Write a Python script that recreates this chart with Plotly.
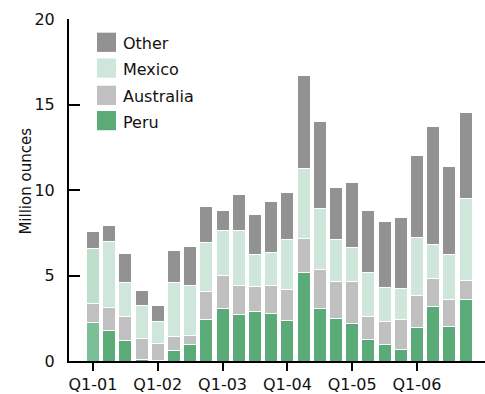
import plotly.graph_objects as go

# Quarterly silver output by source, million ounces
quarters = [f"Q{q}-{y:02d}" for y in range(1, 7) for q in range(1, 5)]

peru = [2.27, 1.76, 1.18, 0.08, 0.05, 0.62, 0.99, 2.44, 3.08, 2.71, 2.89, 2.79,
        2.38, 5.19, 3.08, 2.50, 2.19, 1.26, 0.97, 0.66, 1.94, 3.18, 2.03, 3.62]
australia = [1.12, 1.34, 1.44, 1.24, 0.98, 0.81, 0.52, 1.61, 1.94, 1.71, 1.49, 1.63,
             1.81, 1.96, 2.29, 2.15, 2.46, 1.37, 1.36, 1.78, 1.90, 1.65, 1.56, 1.09]
mexico = [3.20, 3.89, 1.99, 1.92, 1.26, 3.16, 2.91, 2.87, 2.60, 3.21, 1.86, 1.93,
          2.92, 4.11, 3.54, 2.48, 1.96, 2.56, 1.95, 1.80, 3.37, 1.99, 2.65, 4.77]
other = [1.00, 0.94, 1.67, 0.89, 0.95, 1.90, 2.25, 2.11, 1.20, 2.08, 2.35, 2.99,
         2.75, 5.44, 5.08, 3.02, 3.83, 3.61, 3.86, 4.17, 4.82, 6.88, 5.12, 5.03]

tick_quarters = ["Q1-01", "Q1-02", "Q1-03", "Q1-04", "Q1-05", "Q1-06"]
y_ticks = [0, 5, 10, 15, 20]

C_PERU, C_AUS, C_MEX, C_OTHER = "#5aab78", "#c0c0c0", "#cfe6da", "#929292"
# first quarter shown with a highlighted tint
peru_colors = ["#7bbf96"] + [C_PERU] * (len(quarters) - 1)
mex_colors = ["#bddfcb"] + [C_MEX] * (len(quarters) - 1)

series = [
    ("Peru", peru, peru_colors),
    ("Australia", australia, C_AUS),
    ("Mexico", mexico, mex_colors),
    ("Other", other, C_OTHER),
]

FONT = "DejaVu Sans, Verdana, sans-serif"
TXT = "#111111"

fig = go.Figure()
for name, vals, col in series:
    fig.add_trace(go.Bar(
        x=quarters, y=vals, name=name, width=0.8,
        marker=dict(color=col, line=dict(color="white", width=1)),
        showlegend=False,
    ))

# legend drawn as large square swatches with labels (pixel rows of each entry)
legend_items = [("Other", C_OTHER), ("Mexico", C_MEX), ("Australia", C_AUS), ("Peru", C_PERU)]
legend_rows = [42.5, 68.5, 96, 121.5]
W, H = 485, 394
L, B, T = 69, 30, 19
pw, ph = W - L, H - B - T
for (name, col), cy in zip(legend_items, legend_rows):
    x0 = (97 - L) / pw
    x1 = (116 - L) / pw
    y0 = (H - B - (cy + 9.7)) / ph
    y1 = (H - B - (cy - 9.7)) / ph
    fig.add_shape(type="rect", xref="paper", yref="paper", x0=x0, x1=x1, y0=y0, y1=y1,
                  fillcolor=col, line=dict(width=0))
    fig.add_annotation(xref="paper", yref="paper", x=(121 - L) / pw, y=(H - B - cy - 1.5) / ph,
                       text=name, showarrow=False, xanchor="left", yanchor="middle",
                       font=dict(family=FONT, size=16, color=TXT))

fig.add_annotation(xref="paper", yref="paper", x=(26 - L) / pw, y=(H - B - 183) / ph,
                   text="Million ounces", textangle=-90, showarrow=False,
                   xanchor="center", yanchor="middle",
                   font=dict(family=FONT, size=15, color=TXT))

fig.update_layout(
    width=W, height=H,
    margin=dict(l=L, r=0, t=T, b=B),
    barmode="stack",
    bargap=0.2,
    plot_bgcolor="white", paper_bgcolor="white",
    font=dict(family=FONT, size=16, color=TXT),
    xaxis=dict(
        type="category", categoryorder="array", categoryarray=quarters,
        range=[-1.48, 24.2],
        tickmode="array", tickvals=tick_quarters, ticktext=tick_quarters,
        ticks="outside", ticklen=8, tickwidth=2, tickcolor="black",
        tickfont=dict(size=16),
        showline=True, linecolor="black", linewidth=2,
        showgrid=False, zeroline=False, layer="below traces",
    ),
    yaxis=dict(
        range=[0, 20], tickvals=y_ticks,
        ticks="inside", ticklen=11, tickwidth=2, tickcolor="black",
        tickfont=dict(size=16),
        showline=True, linecolor="black", linewidth=2,
        showgrid=False, zeroline=False, ticklabelstandoff=9,
    ),
)

fig.write_html("out.html")
